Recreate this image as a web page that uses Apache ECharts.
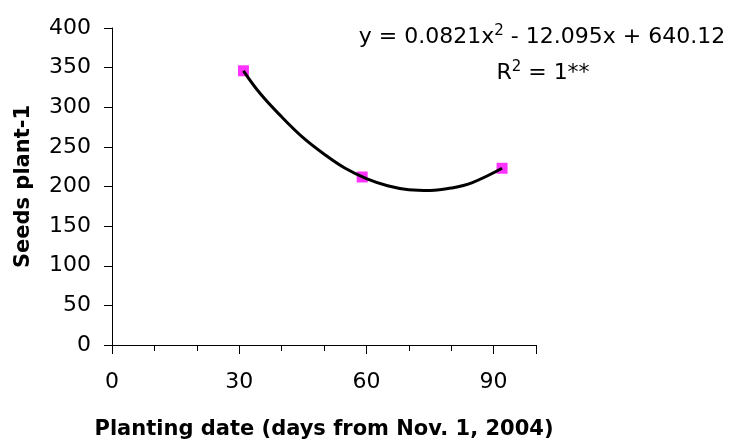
<!DOCTYPE html>
<html>
<head>
<meta charset="utf-8">
<script src="https://cdn.jsdelivr.net/npm/echarts@6/dist/echarts.min.js"></script>
<style>
html,body{margin:0;padding:0;background:#fff;}
#chart{width:734px;height:441px;}
</style>
</head>
<body>
<div id="chart"></div>
<script>
// Observed data points (days from Nov. 1, 2004 ; seeds per plant)
const plantingDays = [31, 59, 92];
const seedsPerPlant = [346, 212, 223];

// Trendline
const trendDays  = [31, 35, 40, 45, 50, 55, 60, 65, 70, 75, 80, 85, 92];
const trendSeeds = [346, 317, 288, 262, 241, 223, 210, 201, 196, 195, 198, 205, 223];

// Axis ticks
const xTickLabels = [0, 30, 60, 90];
const yTicks = [0, 50, 100, 150, 200, 250, 300, 350, 400];

const xName = 'Planting date (days from Nov. 1, 2004)';
const yName = 'Seeds plant-1';
const eqLine1 = ['y = 0.0821x', '2', ' - 12.095x + 640.12'];
const eqLine2 = ['R', '2', ' = 1**'];

const FONT = 'DejaVu Sans';

const chart = echarts.init(document.getElementById('chart'), null, {renderer: 'canvas'});

const scatterData = plantingDays.map((d, i) => [d, seedsPerPlant[i]]);
const trendData = trendDays.map((d, i) => [d, trendSeeds[i]]);

const option = {
  backgroundColor: '#fff',
  animation: false,
  grid: {left: 112, right: 198, top: 28, bottom: 96, containLabel: false, outerBoundsMode: 'none'},
  xAxis: [
    {
      type: 'value', min: 0, max: 100, interval: 10,
      axisLine: {show: true, lineStyle: {color: '#000', width: 1}},
      axisTick: {show: true, inside: false, length: 6, lineStyle: {color: '#000'}},
      axisLabel: {show: false},
      splitLine: {show: false}
    },
    {
      type: 'value', min: 0, max: 100, interval: 30, position: 'bottom',
      axisLine: {show: false},
      axisTick: {show: true, inside: false, length: 9, lineStyle: {color: '#000'}},
      axisLabel: {
        show: true, margin: 26, color: '#000', fontFamily: FONT, fontSize: 22,
        formatter: v => (xTickLabels.indexOf(v) >= 0 ? String(v) : '')
      },
      splitLine: {show: false},
      name: xName, nameLocation: 'middle', nameGap: 74,
      nameTextStyle: {fontFamily: FONT, fontWeight: 'bold', fontSize: 21, color: '#000'}
    }
  ],
  yAxis: {
    type: 'value', min: yTicks[0], max: yTicks[yTicks.length - 1], interval: 50,
    axisLine: {show: true, lineStyle: {color: '#000', width: 1}},
    axisTick: {show: true, inside: false, length: 8, lineStyle: {color: '#000'}},
    axisLabel: {margin: 21, color: '#000', fontFamily: FONT, fontSize: 22},
    splitLine: {show: false},
    name: yName, nameLocation: 'middle', nameGap: 78,
    nameTextStyle: {fontFamily: FONT, fontWeight: 'bold', fontSize: 21, color: '#000'}
  },
  graphic: [
    {
      type: 'text', x: 542, y: 37,
      style: {
        text: '{n|' + eqLine1[0] + '}{s|' + eqLine1[1] + '}{n|' + eqLine1[2] + '}',
        align: 'center', verticalAlign: 'middle',
        rich: {
          n: {fontFamily: FONT, fontSize: 22, fill: '#000', lineHeight: 26},
          s: {fontFamily: FONT, fontSize: 15, fill: '#000', verticalAlign: 'top', lineHeight: 16}
        }
      }
    },
    {
      type: 'text', x: 543, y: 73,
      style: {
        text: '{n|' + eqLine2[0] + '}{s|' + eqLine2[1] + '}{n|' + eqLine2[2] + '}',
        align: 'center', verticalAlign: 'middle',
        rich: {
          n: {fontFamily: FONT, fontSize: 22, fill: '#000', lineHeight: 26},
          s: {fontFamily: FONT, fontSize: 15, fill: '#000', verticalAlign: 'top', lineHeight: 16}
        }
      }
    }
  ],
  series: [
    {
      type: 'scatter', xAxisIndex: 0, data: scatterData,
      symbol: 'rect', symbolSize: 11,
      itemStyle: {color: '#FF00FF'}, z: 2
    },
    {
      type: 'line', xAxisIndex: 0, data: trendData,
      smooth: 0.4, symbol: 'none',
      lineStyle: {color: '#000', width: 3}, z: 3
    }
  ]
};
chart.setOption(option);
</script>
</body>
</html>
